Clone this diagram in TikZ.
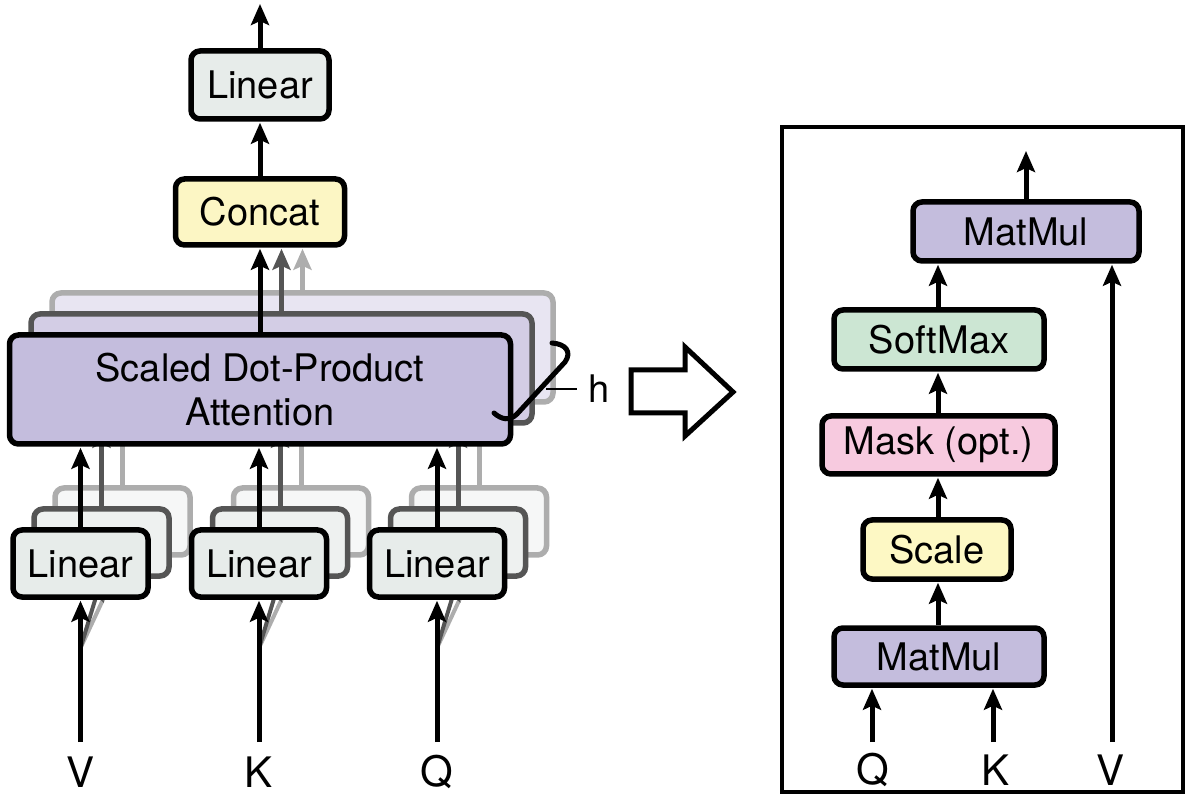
\documentclass[tikz,border=0pt]{standalone}
\usepackage{fontspec}
\setmainfont{TeX Gyre Heros}
\usetikzlibrary{arrows.meta}
\definecolor{linfill}{HTML}{E7ECEA}
\definecolor{lintwo}{HTML}{EEF1F0}
\definecolor{linthree}{HTML}{F6F7F7}
\definecolor{concatfill}{HTML}{FCF6C4}
\definecolor{sdpafill}{HTML}{C4BDDD}
\definecolor{sdpatwo}{HTML}{D3CDE5}
\definecolor{sdpathree}{HTML}{E8E5F2}
\definecolor{softfill}{HTML}{CCE6D3}
\definecolor{maskfill}{HTML}{F7CADF}
\definecolor{scalefill}{HTML}{FDF8C4}
\definecolor{dg}{HTML}{555555}
\definecolor{lg}{HTML}{ADADAD}
\newcommand\boxfont{\fontsize{38}{44}\selectfont}
\newcommand\lblfont{\fontsize{42}{46}\selectfont}
\begin{document}
\begin{tikzpicture}[x=1pt,y=-1pt,
  box/.style={draw, line width=5.5pt, rounded corners=9pt, inner sep=0pt, font=\boxfont, align=center},
  arr/.style={line width=5pt, -{Stealth[length=21pt,width=18pt,inset=4pt]}, shorten >=1pt},
  lbl/.style={font=\lblfont, inner sep=0pt},
  sdpabox/.style={box, minimum width=501pt, minimum height=109pt},
  linbox/.style={box, minimum width=135pt, minimum height=67pt},
]
\useasboundingbox (0,0) rectangle (1187,799);

% ---------------- left: multi-head attention ----------------
\coordinate (inV) at (80.5,742);
\coordinate (inK) at (259,742);
\coordinate (inQ) at (437,742);
\coordinate (dV) at (80.5,648);
\coordinate (dK) at (259,648);
\coordinate (dQ) at (437,648);

\node[box, fill=linfill, minimum width=138pt, minimum height=68pt] (lintop) at (260,85) {Linear};
\node[box, fill=concatfill, minimum width=169pt, minimum height=66pt] (concat) at (260,212) {Concat};
\coordinate (outL) at (260,3);

% layer 3 (light)
\node[sdpabox, draw=lg, fill=sdpathree] (s3) at (302.5,347.5) {};
\foreach \n/\x in {V/80.5,K/259,Q/437}{
  \node[linbox, draw=lg, fill=linthree] (l3\n) at (\x+42,521.5) {};
  \draw[arr, lg] (l3\n.north) -- (l3\n.north |- s3.south);
  \draw[arr, lg, line width=4pt] (d\n) -- (l3\n.south);
}
\draw[arr, lg] (s3.north) -- (s3.north |- concat.south);

% layer 2 (dark gray)
\node[sdpabox, draw=dg, fill=sdpatwo] (s2) at (281.5,368.5) {};
\foreach \n/\x in {V/80.5,K/259,Q/437}{
  \node[linbox, draw=dg, fill=lintwo] (l2\n) at (\x+21,542.5) {};
  \draw[arr, dg] (l2\n.north) -- (l2\n.north |- s2.south);
  \draw[arr, dg, line width=4pt] (d\n) -- (l2\n.south);
}
\draw[arr, dg] (s2.north) -- (s2.north |- concat.south);

% layer 1 (front)
\node[sdpabox, fill=sdpafill] (s1) at (260,389.5) {Scaled Dot-Product\\Attention};
\foreach \n/\x in {V/80.5,K/259,Q/437}{
  \node[linbox, fill=linfill] (l1\n) at (\x,563.5) {Linear};
  \draw[arr] (l1\n.north) -- (l1\n.north |- s1.south);
  \draw[arr] (in\n) -- (l1\n.south);
}
\draw[arr] (s1.north) -- (concat.south);
\draw[arr] (concat.north) -- (lintop.south);
\draw[arr] (lintop.north) -- (outL);

\node[lbl] (labV) at (80.5,772) {V};
\node[lbl] (labK) at (259,772) {K};
\node[lbl] (labQ) at (437,772) {Q};

% brace and h
\draw[line width=5pt, line cap=round] (552,343) .. controls (566,344) and (572,352) .. (565,362) -- (517,414) .. controls (510,421) and (502,420) .. (494,413);
\coordinate (hl) at (546,389);
\node[font=\boxfont, inner sep=0pt] (hlab) at (599,389) {h};
\draw[line width=2pt] (hl) -- (577,389);

% big hollow arrow
\draw[line width=5pt, line join=miter, fill=white] (631,370) -- (685,370) -- (685,347) -- (733,392) -- (685,436) -- (685,413) -- (631,413) -- cycle;

% ---------------- right: scaled dot-product attention ----------------
\draw[line width=4.5pt] (782,127) rectangle (1183,792);
\node[box, fill=sdpafill, minimum width=226pt, minimum height=59pt] (mmtop) at (1026,231.5) {MatMul};
\node[box, fill=softfill, minimum width=210pt, minimum height=59pt] (soft) at (939,339.5) {SoftMax};
\node[box, fill=maskfill, minimum width=233pt, minimum height=58pt] (mask) at (938.5,445) {Mask (opt.)};
\node[box, fill=scalefill, minimum width=148pt, minimum height=59pt] (scale) at (937,549.5) {Scale};
\node[box, fill=sdpafill, minimum width=210pt, minimum height=57pt] (mmbot) at (939,656.5) {MatMul};
\coordinate (outR) at (1026,150);
\coordinate (rQ) at (872,742);
\coordinate (rK) at (993,742);
\coordinate (rV) at (1112,742);

\draw[arr] (mmtop.north) -- (outR);
\draw[arr] (soft.north -| 938,0) -- (938,0 |- mmtop.south);
\draw[arr] (mask.north -| 938,0) -- (938,0 |- soft.south);
\draw[arr] (scale.north -| 938,0) -- (938,0 |- mask.south);
\draw[arr] (mmbot.north -| 938,0) -- (938,0 |- scale.south);
\draw[arr] (rQ) -- (rQ |- mmbot.south);
\draw[arr] (rK) -- (rK |- mmbot.south);
\draw[arr] (rV) -- (rV |- mmtop.south);

\node[lbl] (rlabQ) at (873,770) {Q};
\node[lbl] (rlabK) at (995,770) {K};
\node[lbl] (rlabV) at (1110,770) {V};
\end{tikzpicture}
\end{document}
